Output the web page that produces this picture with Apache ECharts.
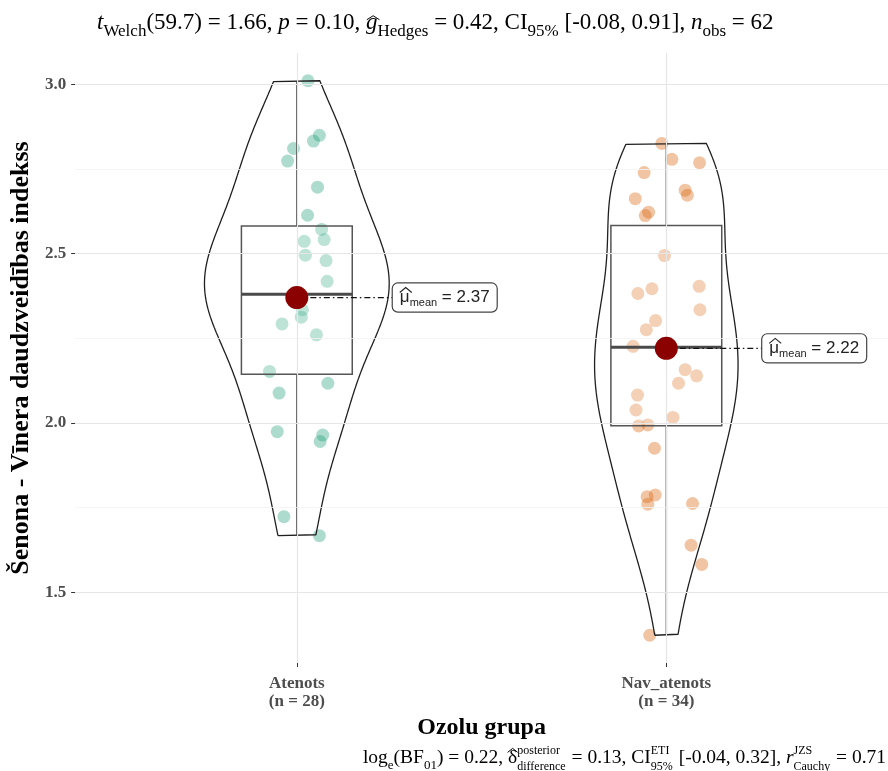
<!DOCTYPE html>
<html>
<head>
<meta charset="utf-8">
<script src="https://cdn.jsdelivr.net/npm/echarts@6/dist/echarts.min.js"></script>
<style>html,body{margin:0;padding:0;background:#fff;}#c{width:888px;height:771px;}</style>
</head>
<body>
<div id="c"></div>
<script>
// ---------- data ----------
const categories = ['Atenots', 'Nav_atenots'];
const countLabels = ['(n = 28)', '(n = 34)'];
const atenotsValues = [3.01, 2.849, 2.832, 2.81, 2.773, 2.696, 2.613, 2.571, 2.541, 2.536, 2.495, 2.479, 2.418, 2.385, 2.375, 2.36, 2.334, 2.312, 2.292, 2.26, 2.152, 2.117, 2.088, 1.974, 1.964, 1.945, 1.723, 1.667];
const atenotsJitter = [0.030, 0.061, 0.045, -0.009, -0.025, 0.056, 0.029, 0.067, 0.074, 0.020, 0.023, 0.079, 0.082, 0.000, 0.010, -0.005, 0.015, 0.012, -0.040, 0.053, -0.074, 0.084, -0.048, -0.053, 0.070, 0.063, -0.035, 0.061];
const navValues = [2.825, 2.778, 2.768, 2.739, 2.687, 2.672, 2.662, 2.622, 2.612, 2.494, 2.403, 2.396, 2.382, 2.334, 2.302, 2.275, 2.226, 2.22, 2.157, 2.139, 2.117, 2.082, 2.038, 2.016, 1.994, 1.991, 1.925, 1.787, 1.782, 1.762, 1.760, 1.639, 1.582, 1.373];
const navJitter = [-0.012, 0.015, 0.090, -0.060, 0.051, 0.057, -0.084, -0.048, -0.057, -0.005, 0.089, -0.039, -0.077, 0.091, -0.029, -0.054, -0.090, 0.000, 0.051, 0.082, 0.033, -0.078, -0.082, 0.018, -0.050, -0.075, -0.032, -0.030, -0.052, 0.071, -0.050, 0.067, 0.096, -0.045];
const meanValues = [2.37, 2.22];
const yTicks = [1.5, 2.0, 2.5, 3.0];
const yMinorTicks = [1.75, 2.25, 2.75];
const yMin = 1.291, yMax = 3.092;

// ---------- helpers ----------
const groups = [atenotsValues, navValues];
const jitters = [atenotsJitter, navJitter];
function quantile(s, p) { const h = (s.length - 1) * p; const lo = Math.floor(h); const hi = Math.min(lo + 1, s.length - 1); return s[lo] + (h - lo) * (s[hi] - s[lo]); }
function stats(v) {
  const s = v.slice().sort((a, b) => a - b);
  const q1 = quantile(s, 0.25), med = quantile(s, 0.5), q3 = quantile(s, 0.75);
  const iqr = q3 - q1;
  const lo = Math.min(...s.filter(x => x >= q1 - 1.5 * iqr));
  const hi = Math.max(...s.filter(x => x <= q3 + 1.5 * iqr));
  return { s, q1, med, q3, lo, hi, iqr };
}
function bwNrd0(v) {
  const n = v.length, m = v.reduce((a, b) => a + b, 0) / n;
  const sd = Math.sqrt(v.reduce((a, b) => a + (b - m) * (b - m), 0) / (n - 1));
  const st = stats(v);
  return 0.9 * Math.min(sd, st.iqr / 1.34) * Math.pow(n, -0.2);
}
function kde(v) {
  const bw = bwNrd0(v), n = v.length;
  const lo = Math.min(...v), hi = Math.max(...v);
  const pts = [];
  for (let i = 0; i < 512; i++) {
    const y = lo + (hi - lo) * i / 511;
    let d = 0;
    for (const x of v) { const z = (y - x) / bw; d += Math.exp(-0.5 * z * z); }
    pts.push([y, d / (n * bw * Math.sqrt(2 * Math.PI))]);
  }
  return pts;
}
const dens = groups.map(kde);
const maxDens = Math.max(...dens.map(d => Math.max(...d.map(p => p[1]))));
const violinData = dens.map((d, gi) => {
  const c = gi + 1, out = [];
  d.forEach(p => out.push([c - 0.25 * p[1] / maxDens, p[0]]));
  for (let i = d.length - 1; i >= 0; i--) out.push([c + 0.25 * d[i][1] / maxDens, d[i][0]]);
  out.push(out[0]);
  return out;
});
const boxData = groups.map((v, gi) => { const s = stats(v); return [gi + 1, s.q1, s.med, s.q3, s.lo, s.hi]; });

// rich line layout for title / caption
function richLine(pieces, anchorX, baseline, align, baseSize, family, subRatio) {
  const ctx = document.createElement('canvas').getContext('2d');
  const fnt = (p, size) => `${p.i ? 'italic ' : ''}${size}px ${family}`;
  const items = [], hats = []; let x = 0;
  for (const p of pieces) {
    if (p.sup !== undefined) {
      const s = Math.round(baseSize * 0.6);
      ctx.font = fnt({}, s);
      const w = Math.max(ctx.measureText(p.sup).width, ctx.measureText(p.sub).width);
      items.push({ t: p.sup, x, size: s, dy: -baseSize * 0.5 });
      items.push({ t: p.sub, x, size: s, dy: baseSize * 0.3 });
      x += w + 1;
    } else {
      const s = p.sub ? Math.round(baseSize * subRatio) : baseSize;
      ctx.font = fnt(p, s);
      const w = ctx.measureText(p.t).width;
      items.push({ t: p.t, x, size: s, dy: p.sub ? baseSize * 0.28 : 0, i: p.i });
      if (p.hat) hats.push({ cx: x + w / 2 + (p.i ? 1.5 : 0), hy: p.hat * s, hw: w * 0.55 });
      x += w;
    }
  }
  const start = align === 'right' ? anchorX - x : (align === 'center' ? anchorX - x / 2 : anchorX);
  const els = items.map(it => ({
    type: 'text', silent: true,
    x: start + it.x, y: baseline + it.dy - 0.34 * it.size,
    style: { text: it.t, font: fnt(it, it.size), fill: '#000', align: 'left', verticalAlign: 'middle', textAlign: 'left', textVerticalAlign: 'middle' }
  }));
  hats.forEach(h => els.push({
    type: 'polyline', silent: true,
    shape: { points: [[start + h.cx - h.hw, baseline - h.hy + 3], [start + h.cx, baseline - h.hy - 1], [start + h.cx + h.hw, baseline - h.hy + 3]] },
    style: { stroke: '#000', lineWidth: 1, fill: null }
  }));
  return els;
}
const titlePieces = [
  { t: 't', i: 1 }, { t: 'Welch', sub: 1 }, { t: '(59.7) = 1.66, ' }, { t: 'p', i: 1 }, { t: ' = 0.10, ' },
  { t: 'g', i: 1, hat: 0.62 }, { t: 'Hedges', sub: 1 }, { t: ' = 0.42, CI' }, { t: '95%', sub: 1 }, { t: ' [-0.08, 0.91], ' },
  { t: 'n', i: 1 }, { t: 'obs', sub: 1 }, { t: ' = 62' }
];
const captionPieces = [
  { t: 'log' }, { t: 'e', sub: 1 }, { t: '(BF' }, { t: '01', sub: 1 }, { t: ') = 0.22, ' },
  { t: 'δ', hat: 0.8 }, { sup: 'posterior', sub: 'difference' }, { t: ' = 0.13, CI' }, { sup: 'ETI', sub: '95%' },
  { t: ' [-0.04, 0.32], ' }, { t: 'r', i: 1 }, { sup: 'JZS', sub: 'Cauchy' }, { t: ' = 0.71' }
];

const serif = "'Liberation Serif', 'DejaVu Serif', serif";
const sans = "'Liberation Sans', Arial, sans-serif";
const chart = echarts.init(document.getElementById('c'), null, { renderer: 'canvas' });
const colors = ['#1B9E77', '#D95F02'];

const gridLines = [];
yTicks.forEach(v => gridLines.push({ yAxis: v, lineStyle: { color: '#e6e6e6', width: 1.2, type: 'solid' } }));
yMinorTicks.forEach(v => gridLines.push({ yAxis: v, lineStyle: { color: '#f2f2f2', width: 0.8, type: 'solid' } }));
[1, 2].forEach(v => gridLines.push({ xAxis: v, lineStyle: { color: '#e6e6e6', width: 1.2, type: 'solid' } }));

const series = [
  {
    type: 'line', data: [[1, 2]], showSymbol: false, symbol: 'none', lineStyle: { opacity: 0 }, z: 0, silent: true,
    markLine: { silent: true, symbol: 'none', label: { show: false }, animation: false, data: gridLines }
  }
];
groups.forEach((v, gi) => {
  series.push({
    type: 'scatter', z: 2, silent: true, symbolSize: 13,
    itemStyle: { color: colors[gi], opacity: 0.36 },
    data: v.map((y, i) => [gi + 1 + jitters[gi][i], y])
  });
});
series.push({
  type: 'custom', z: 3, silent: true, data: boxData,
  renderItem: (params, api) => {
    const x = api.value(0);
    const pq1 = api.coord([x, api.value(1)]), pm = api.coord([x, api.value(2)]), pq3 = api.coord([x, api.value(3)]);
    const plo = api.coord([x, api.value(4)]), phi = api.coord([x, api.value(5)]);
    const hw = api.size([0.3, 0])[0] / 2;
    const st = { stroke: '#555', lineWidth: 1.5, fill: null };
    return {
      type: 'group', children: [
        { type: 'line', shape: { x1: pq3[0], y1: pq3[1], x2: phi[0], y2: phi[1] }, style: st },
        { type: 'line', shape: { x1: pq1[0], y1: pq1[1], x2: plo[0], y2: plo[1] }, style: st },
        { type: 'rect', shape: { x: pq3[0] - hw, y: pq3[1], width: 2 * hw, height: pq1[1] - pq3[1] }, style: { stroke: '#555', lineWidth: 1.5, fill: 'rgba(255,255,255,0.2)' } },
        { type: 'line', shape: { x1: pm[0] - hw, y1: pm[1], x2: pm[0] + hw, y2: pm[1] }, style: { stroke: '#4a4a4a', lineWidth: 3 } }
      ]
    };
  }
});
violinData.forEach(d => {
  series.push({
    type: 'line', z: 4, silent: true, data: d, showSymbol: false, symbol: 'none', smooth: false,
    lineStyle: { color: '#1f1f1f', width: 1.3 }
  });
});
series.push({
  type: 'custom', z: 5, silent: true, data: meanValues.map((m, i) => [i + 1, m]),
  renderItem: (params, api) => {
    const p = api.coord([api.value(0), api.value(1)]);
    const gap = 96, padL = 7;
    const muW = 9.8, cx = p[0] + gap + padL + muW / 2 + 1;
    return {
      type: 'group', children: [
        { type: 'line', shape: { x1: p[0], y1: p[1], x2: p[0] + gap, y2: p[1] }, style: { stroke: '#111', lineWidth: 1.2, lineDash: [6, 3, 1.5, 3] } },
        {
          type: 'text', x: p[0] + gap, y: p[1],
          style: {
            text: '{mu|μ}{sub|mean}{v| = ' + api.value(1).toFixed(2) + '}',
            rich: {
              mu: { fontSize: 17, fontFamily: sans, fill: '#222', lineHeight: 22 },
              sub: { fontSize: 11, fontFamily: sans, fill: '#222', lineHeight: 11, verticalAlign: 'bottom' },
              v: { fontSize: 17, fontFamily: sans, fill: '#222', lineHeight: 22 }
            },
            backgroundColor: '#fff', borderColor: '#444', borderWidth: 1.2, borderRadius: 5,
            padding: [3, 7, 3, padL], align: 'left', verticalAlign: 'middle'
          }
        },
        { type: 'polyline', z2: 10, shape: { points: [[cx - 6, p[1] - 5], [cx, p[1] - 10], [cx + 6, p[1] - 5]] }, style: { stroke: '#222', lineWidth: 1.1, fill: null } }
      ]
    };
  }
});
series.push({
  type: 'scatter', z: 6, silent: true, symbolSize: 23,
  itemStyle: { color: '#8B0000', opacity: 1 },
  data: meanValues.map((m, i) => [i + 1, m])
});

chart.setOption({
  animation: false,
  backgroundColor: '#fff',
  grid: { left: 74, right: 0, top: 53, bottom: 108, containLabel: false },
  xAxis: {
    type: 'value', min: 0.4, max: 2.6,
    axisLine: { show: false }, splitLine: { show: false },
    axisTick: { show: true, customValues: [1, 2], length: 4, lineStyle: { color: '#333' } },
    axisLabel: {
      customValues: [1, 2], margin: 12,
      formatter: v => categories[Math.round(v) - 1] + '\n' + countLabels[Math.round(v) - 1],
      fontFamily: serif, fontWeight: 'bold', fontSize: 17, color: '#4d4d4d', lineHeight: 18
    },
    name: 'Ozolu grupa', nameLocation: 'middle', nameGap: 47,
    nameTextStyle: { fontFamily: serif, fontWeight: 'bold', fontSize: 24, color: '#000' }
  },
  yAxis: {
    type: 'value', min: yMin, max: yMax,
    axisLine: { show: false }, splitLine: { show: false },
    axisTick: { show: true, customValues: yTicks, length: 4, lineStyle: { color: '#333' } },
    axisLabel: {
      customValues: yTicks, margin: 9, formatter: v => v.toFixed(1),
      fontFamily: serif, fontWeight: 'bold', fontSize: 17, color: '#4d4d4d'
    },
    name: 'Šenona - Vīnera daudzveidības indekss', nameLocation: 'middle', nameGap: 38, nameRotate: 90,
    nameTextStyle: { fontFamily: serif, fontWeight: 'bold', fontSize: 26, color: '#000' }
  },
  graphic: [
    ...richLine(titlePieces, 97, 31, 'left', 23, serif, 0.72),
    ...richLine(captionPieces, 886, 765, 'right', 19.5, serif, 0.68)
  ],
  series
});
</script>
</body>
</html>
